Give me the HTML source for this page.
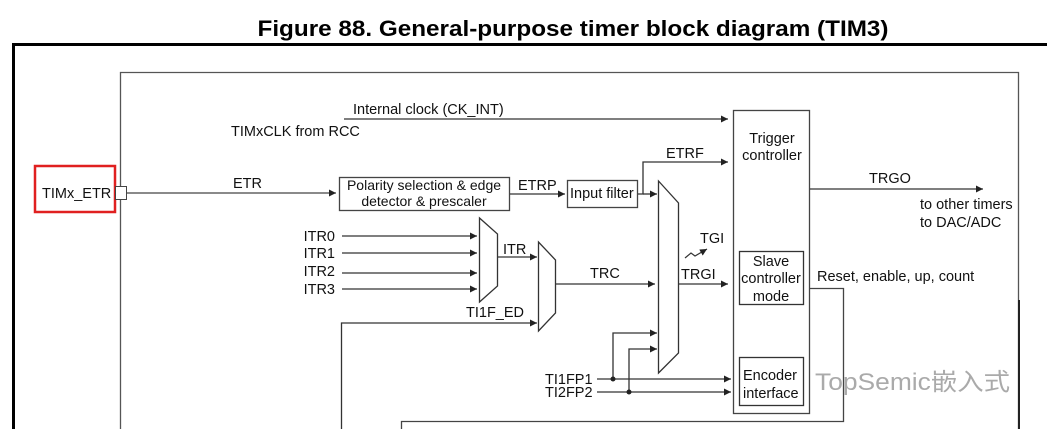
<!DOCTYPE html>
<html><head><meta charset="utf-8"><style>
html,body{margin:0;padding:0;background:#fff;}
svg{display:block;font-family:"Liberation Sans","Noto Sans CJK SC",sans-serif;}
</style></head><body>
<svg width="1047" height="429" viewBox="0 0 1047 429" xmlns="http://www.w3.org/2000/svg">
<defs><marker id="a" viewBox="0 0 10 10" refX="10" refY="5" markerWidth="7" markerHeight="7" orient="auto" markerUnits="userSpaceOnUse"><path d="M0,0L10,5L0,10z" fill="#222"/></marker></defs>
<text x="573" y="36" text-anchor="middle" font-size="22" font-weight="bold" textLength="631" lengthAdjust="spacingAndGlyphs">Figure 88. General-purpose timer block diagram (TIM3)</text>
<path d="M13.5,432V44.5H1047" fill="none" stroke="#000" stroke-width="3"/>
<path d="M120.5,432V72.5H1018.5V432" fill="none" stroke="#555" stroke-width="1.3"/>
<line x1="1019" y1="300" x2="1019" y2="429" stroke="#222" stroke-width="2"/>
<g font-size="14.5" fill="#111">
<line x1="344" y1="119" x2="728" y2="119" stroke="#333" stroke-width="1.3" marker-end="url(#a)"/>
<text x="353" y="114">Internal clock (CK_INT)</text>
<text x="231" y="136">TIMxCLK from RCC</text>
<rect x="35" y="166" width="80" height="46" fill="none" stroke="#e02020" stroke-width="2.5"/>
<text x="42" y="198">TIMx_ETR</text>
<rect x="115.5" y="186.5" width="11" height="13" fill="#fff" stroke="#444"/>
<line x1="127" y1="193" x2="336" y2="193" stroke="#444" stroke-width="1.3" marker-end="url(#a)"/>
<text x="233" y="188">ETR</text>
<rect x="339.5" y="177.5" width="170" height="33" fill="none" stroke="#444" stroke-width="1.3"/>
<text x="424" y="190" text-anchor="middle" font-size="14">Polarity selection &amp; edge</text>
<text x="424" y="206" text-anchor="middle" font-size="14">detector &amp; prescaler</text>
<line x1="510" y1="194" x2="565" y2="194" stroke="#333" stroke-width="1.3" marker-end="url(#a)"/>
<text x="518" y="190">ETRP</text>
<rect x="567.5" y="180.5" width="70" height="27" fill="none" stroke="#444" stroke-width="1.3"/>
<text x="570" y="198">Input filter</text>
<path d="M638,194H643V162H728" fill="none" stroke="#333" stroke-width="1.3" marker-end="url(#a)"/>
<line x1="643" y1="194" x2="657" y2="194" stroke="#333" stroke-width="1.3" marker-end="url(#a)"/>
<text x="666" y="158">ETRF</text>
<path d="M658.5,181V373L678.5,353V203Z" fill="none" stroke="#333" stroke-width="1.3"/>
<line x1="679" y1="284" x2="728" y2="284" stroke="#333" stroke-width="1.3" marker-end="url(#a)"/>
<text x="681" y="279">TRGI</text>
<text x="700" y="243">TGI</text>
<path d="M685,258L691,253L695,256L707,249" fill="none" stroke="#333" stroke-width="1.2" marker-end="url(#a)"/>
<rect x="733.5" y="110.5" width="76" height="303" fill="none" stroke="#444" stroke-width="1.3"/>
<text x="772" y="143" text-anchor="middle">Trigger</text>
<text x="772" y="160" text-anchor="middle">controller</text>
<rect x="739.5" y="251.5" width="64" height="53" fill="none" stroke="#333" stroke-width="1.3"/>
<text x="771" y="266" text-anchor="middle">Slave</text>
<text x="771" y="283" text-anchor="middle">controller</text>
<text x="771" y="301" text-anchor="middle">mode</text>
<rect x="739.5" y="357.5" width="64" height="48" fill="none" stroke="#333" stroke-width="1.3"/>
<text x="743" y="380">Encoder</text>
<text x="743" y="398">interface</text>
<line x1="810" y1="189" x2="983" y2="189" stroke="#333" stroke-width="1.3" marker-end="url(#a)"/>
<text x="869" y="183">TRGO</text>
<text x="920" y="209">to other timers</text>
<text x="920" y="227">to DAC/ADC</text>
<path d="M810,288.5H843.5V421.5H401.5V432" fill="none" stroke="#444" stroke-width="1.3"/>
<text x="817" y="281">Reset, enable, up, count</text>
<path d="M479.5,218V302L497.5,286V234Z" fill="none" stroke="#333" stroke-width="1.3"/>
<g stroke="#333" stroke-width="1.3">
<line x1="342" y1="236" x2="477" y2="236" marker-end="url(#a)"/>
<line x1="342" y1="253" x2="477" y2="253" marker-end="url(#a)"/>
<line x1="342" y1="273" x2="477" y2="273" marker-end="url(#a)"/>
<line x1="342" y1="289" x2="477" y2="289" marker-end="url(#a)"/>
</g>
<text x="335" y="241" text-anchor="end">ITR0</text>
<text x="335" y="258" text-anchor="end">ITR1</text>
<text x="335" y="276" text-anchor="end">ITR2</text>
<text x="335" y="294" text-anchor="end">ITR3</text>
<line x1="498" y1="257" x2="537" y2="257" stroke="#333" stroke-width="1.3" marker-end="url(#a)"/>
<text x="503" y="254">ITR</text>
<path d="M538.5,242V331L555.5,313V260Z" fill="none" stroke="#333" stroke-width="1.3"/>
<line x1="556" y1="284" x2="655" y2="284" stroke="#333" stroke-width="1.3" marker-end="url(#a)"/>
<text x="590" y="278">TRC</text>
<path d="M341.5,432V323H537" fill="none" stroke="#333" stroke-width="1.3" marker-end="url(#a)"/>
<text x="466" y="317">TI1F_ED</text>
<line x1="597" y1="379" x2="731" y2="379" stroke="#333" stroke-width="1.3" marker-end="url(#a)"/>
<line x1="597" y1="392" x2="731" y2="392" stroke="#333" stroke-width="1.3" marker-end="url(#a)"/>
<path d="M613,379V333H657" fill="none" stroke="#333" stroke-width="1.3" marker-end="url(#a)"/>
<path d="M629,392V349H657" fill="none" stroke="#333" stroke-width="1.3" marker-end="url(#a)"/>
<circle cx="613" cy="379" r="2.5" fill="#222"/>
<circle cx="629" cy="392" r="2.5" fill="#222"/>
<text x="545" y="384">TI1FP1</text>
<text x="545" y="397">TI2FP2</text>
<text x="815" y="390" font-size="24" fill="#aaa" textLength="195" lengthAdjust="spacingAndGlyphs">TopSemic嵌入式</text>
</g>
</svg>
</body></html>
